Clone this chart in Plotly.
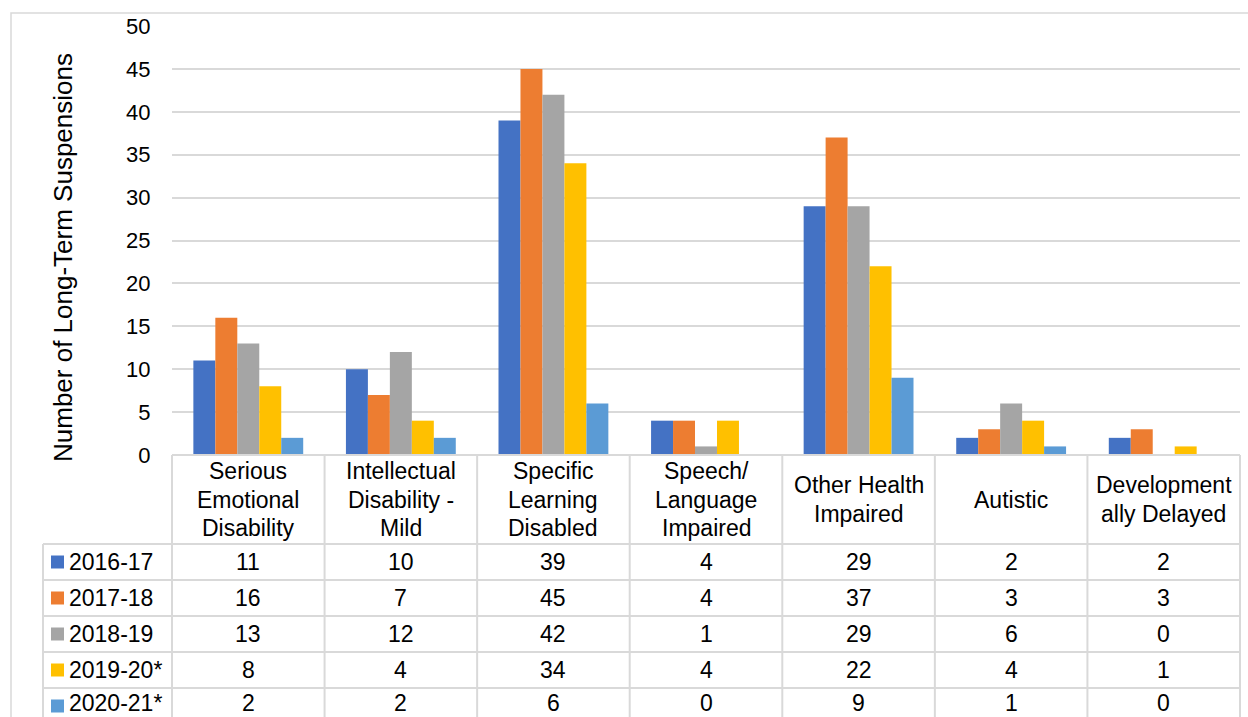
import plotly.graph_objects as go

categories = ["Serious<br>Emotional<br>Disability", "Intellectual<br>Disability -<br>Mild",
              "Specific<br>Learning<br>Disabled", "Speech/<br>Language<br>Impaired",
              "Other Health<br>Impaired", "Autistic", "Development<br>ally Delayed"]
series_names = ["2016-17", "2017-18", "2018-19", "2019-20*", "2020-21*"]
v_2016_17 = [11, 10, 39, 4, 29, 2, 2]
v_2017_18 = [16, 7, 45, 4, 37, 3, 3]
v_2018_19 = [13, 12, 42, 1, 29, 6, 0]
v_2019_20 = [8, 4, 34, 4, 22, 4, 1]
v_2020_21 = [2, 2, 6, 0, 9, 1, 0]
series_values = [v_2016_17, v_2017_18, v_2018_19, v_2019_20, v_2020_21]
colors = ["#4472C4", "#ED7D31", "#A5A5A5", "#FFC000", "#5B9BD5"]
y_ticks = [0, 5, 10, 15, 20, 25, 30, 35, 40, 45, 50]
y_title = "Number of Long-Term Suspensions"

W, H = 1248, 717
FONT = "Liberation Sans, Arial, sans-serif"
GRID = "#d9d9d9"


def xp(px):
    return px / W


def yp(py):
    return 1 - py / H


# layout geometry (pixels)
PL, PR = 172, 1240      # plot area left/right
PT, PB = 26, 455        # y=50 and y=0
HDR_B = 544             # header bottom
ROW_H = 36
LEG_L = 43

n = len(categories)
xs = list(range(n))

fig = go.Figure()
for name, vals, c in zip(series_names, series_values, colors):
    fig.add_trace(go.Bar(x=xs, y=vals, name=name, marker=dict(color=c, line=dict(width=0)),
                         showlegend=False, hoverinfo="skip"))

shapes = []
annotations = []

# outer chart border
shapes.append(dict(type="rect", xref="paper", yref="paper", x0=xp(11), x1=xp(1262),
                   y0=yp(740), y1=yp(13), line=dict(color=GRID, width=1.5), layer="below"))

line_style = dict(color=GRID, width=2)
# table horizontal lines
shapes.append(dict(type="line", xref="paper", yref="paper", x0=xp(PL), x1=xp(PR),
                   y0=yp(PB), y1=yp(PB), line=line_style))
for r in range(len(series_names) + 1):
    yy = HDR_B + r * ROW_H
    shapes.append(dict(type="line", xref="paper", yref="paper", x0=xp(LEG_L), x1=xp(PR),
                       y0=yp(yy), y1=yp(yy), line=line_style))
# vertical lines
cw = (PR - PL) / n
for i in range(n + 1):
    xx = PL + i * cw
    shapes.append(dict(type="line", xref="paper", yref="paper", x0=xp(xx), x1=xp(xx),
                       y0=yp(PB), y1=yp(760), line=line_style))
shapes.append(dict(type="line", xref="paper", yref="paper", x0=xp(LEG_L), x1=xp(LEG_L),
                   y0=yp(HDR_B), y1=yp(760), line=line_style))

# header labels
LINE_SP = 28.5
hdr_c = (PB + HDR_B) / 2
for i, cat in enumerate(categories):
    lines = cat.split("<br>")
    cx = PL + (i + 0.5) * cw
    for k, ln in enumerate(lines):
        cy = hdr_c + (k - (len(lines) - 1) / 2) * LINE_SP
        annotations.append(dict(xref="paper", yref="paper", x=xp(cx), y=yp(cy), text=ln,
                                showarrow=False, xanchor="center", yanchor="middle",
                                font=dict(family=FONT, size=23, color="#000000")))

# rows
for r, (name, vals, c) in enumerate(zip(series_names, series_values, colors)):
    cy = HDR_B + (r + 0.5) * ROW_H
    ty = min(cy, 703)
    shapes.append(dict(type="rect", xref="paper", yref="paper", x0=xp(51), x1=xp(64),
                       y0=yp(cy + 6.5), y1=yp(cy - 6.5), fillcolor=c, line=dict(width=0)))
    annotations.append(dict(xref="paper", yref="paper", x=xp(67), y=yp(ty), text=name,
                            showarrow=False, xanchor="left", yanchor="middle",
                            font=dict(family=FONT, size=23, color="#000000")))
    for i, v in enumerate(vals):
        cx = PL + (i + 0.5) * cw
        annotations.append(dict(xref="paper", yref="paper", x=xp(cx), y=yp(ty), text=str(v),
                                showarrow=False, xanchor="center", yanchor="middle",
                                font=dict(family=FONT, size=23, color="#000000")))

# y title
annotations.append(dict(xref="paper", yref="paper", x=xp(63), y=yp(258), text=y_title,
                        textangle=-90, showarrow=False, xanchor="center", yanchor="middle",
                        font=dict(family=FONT, size=26, color="#000000")))

fig.update_layout(
    width=W, height=H, autosize=False,
    margin=dict(l=0, r=0, t=0, b=0, pad=0, autoexpand=False),
    paper_bgcolor="white", plot_bgcolor="white",
    barmode="group", bargap=0.28, bargroupgap=0,
    shapes=shapes, annotations=annotations,
    xaxis=dict(domain=[xp(PL), xp(PR)], range=[-0.5, n - 0.5], showticklabels=False,
               showgrid=False, zeroline=False, showline=False, fixedrange=True, automargin=False),
    yaxis=dict(domain=[yp(PB), yp(PT)], range=[0, 50], tickvals=y_ticks,
               showgrid=True, gridcolor=GRID, gridwidth=2, zeroline=False, showline=False,
               ticks="outside", ticklen=16, tickcolor="rgba(0,0,0,0)", automargin=False,
               tickfont=dict(family=FONT, size=22, color="#000000"), fixedrange=True),
    font=dict(family=FONT),
)

fig.write_html("out.html", config={"displayModeBar": False},
               post_script="document.body.style.margin='0';document.body.style.overflow='hidden';")
